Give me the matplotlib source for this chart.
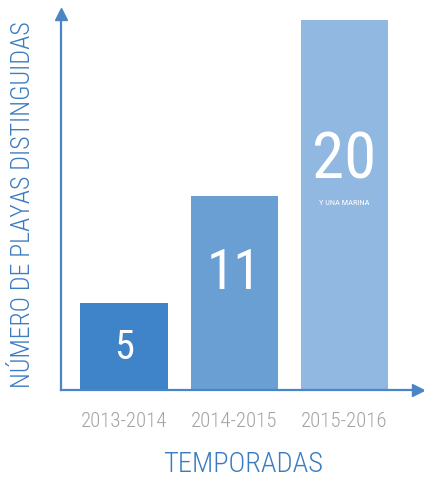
import matplotlib.pyplot as plt
from matplotlib import font_manager

# datos
temporadas = ['2013-2014', '2014-2015', '2015-2016']
valores = [5, 11, 20]
alturas = [4.7, 10.5, 20]   # altura dibujada de cada barra
colores = ['#3f83c8', '#6a9fd3', '#90b8e0']
tamanos = [29, 40, 47]
pos_txt = [0.49, 0.60, 0.62]  # altura relativa del numero dentro de la barra
nota = 'Y UNA MARINA'

names = {f.name for f in font_manager.fontManager.ttflist}
fam = 'DejaVu Sans'
for cand in ['Roboto Condensed', 'Open Sans Condensed', 'Liberation Sans Narrow',
             'Noto Sans Condensed', 'DejaVu Sans Condensed']:
    if cand in names:
        fam = cand
        break
plt.rcParams['font.family'] = [fam, 'DejaVu Sans']
plt.rcParams['font.stretch'] = 'condensed'

W, H = 424, 482
fig = plt.figure(figsize=(W / 100, H / 100), dpi=100)
ax = fig.add_axes([61 / W, (H - 390) / H, 362 / W, 382 / H])

x = list(range(len(temporadas)))
ax.bar(x, alturas, width=0.79, color=colores, zorder=1)
ax.set_xlim(-0.57, 2.71)
ax.set_ylim(0, 20 * 382 / 370)

for i, v in enumerate(valores):
    ax.text(x[i], alturas[i] * pos_txt[i], str(v), ha='center', va='center',
            color='white', fontsize=tamanos[i])
ax.text(x[2], alturas[2] * 0.505, nota, ha='center', va='center',
        color='white', fontsize=6)

for s in ax.spines.values():
    s.set_visible(False)
ax.set_xticks(x)
ax.set_xticklabels(temporadas, color='#a3a3a3', fontsize=15, fontweight='light')
ax.tick_params(axis='x', length=0, pad=16)
ax.set_yticks([])

axc = '#4a86c5'
ax.plot([0, 0.985], [0, 0], transform=ax.transAxes, color=axc, lw=1.6,
        clip_on=False, zorder=3)
ax.plot([0, 0], [0, 0.985], transform=ax.transAxes, color=axc, lw=1.6,
        clip_on=False, zorder=3)
ax.plot([0.985], [0], marker='>', ms=9, color=axc, transform=ax.transAxes,
        clip_on=False, zorder=3)
ax.plot([0], [0.985], marker='^', ms=9, color=axc, transform=ax.transAxes,
        clip_on=False, zorder=3)

ylab = fig.text(23 / W, 1 - 205 / H, 'NÚMERO DE PLAYAS DISTINGUIDAS', rotation=90,
                ha='center', va='center', color='#3b7cc0', fontsize=19,
                fontweight='light')
fig.text(243 / W, 1 - 464 / H, 'TEMPORADAS', ha='center', va='center',
         color='#3b7cc0', fontsize=20.5, fontweight='light')

# ajustar la etiqueta vertical a su alto en la referencia (~370 px)
fig.canvas.draw()
bb = ylab.get_window_extent()
if bb.height > 372:
    ylab.set_fontsize(19 * 368 / bb.height)

fig.savefig('out.png', dpi=100)
